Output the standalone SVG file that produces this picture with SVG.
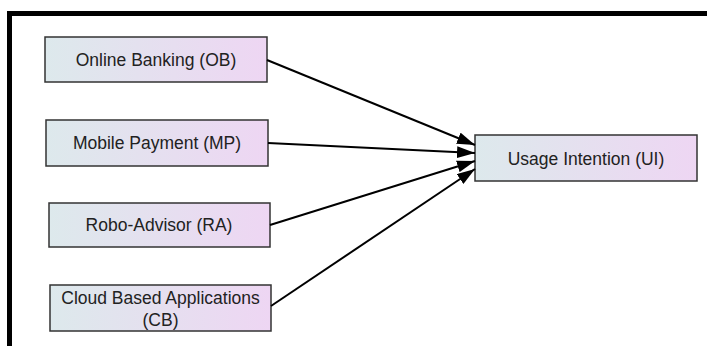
<svg xmlns="http://www.w3.org/2000/svg" width="707" height="346" viewBox="0 0 707 346">
<defs>
<linearGradient id="g" x1="0" y1="0" x2="1" y2="0">
<stop offset="0" stop-color="#dde9ec"/>
<stop offset="1" stop-color="#eed6f3"/>
</linearGradient>
<marker id="ah" markerWidth="18" markerHeight="12" refX="18" refY="6" orient="auto" markerUnits="userSpaceOnUse">
<path d="M0,0 L18,6 L0,12 Z" fill="#000"/>
</marker>
<style>
.box{fill:url(#g);stroke:#333;stroke-width:1.5}
.t{font-family:"Liberation Sans",Arial,sans-serif;font-size:17.5px;fill:#222;text-anchor:middle}
.e{stroke:#000;stroke-width:2;fill:none;marker-end:url(#ah)}
</style>
</defs>
<rect width="707" height="346" fill="#fff"/>
<path d="M9.5,346 V13.5 H707" fill="none" stroke="#000" stroke-width="5"/>
<g id="OB"><rect class="box" x="45" y="37" width="222" height="45"/><text class="t" x="156" y="66">Online Banking (OB)</text></g>
<g id="MP"><rect class="box" x="46" y="120" width="222" height="46"/><text class="t" x="157" y="149">Mobile Payment (MP)</text></g>
<g id="RA"><rect class="box" x="49" y="203" width="221" height="44"/><text class="t" x="159" y="231">Robo-Advisor (RA)</text></g>
<g id="CB"><rect class="box" x="50" y="285" width="221" height="46"/><text class="t" x="160.5" y="304">Cloud Based Applications</text><text class="t" x="160.5" y="326">(CB)</text></g>
<g id="UI"><rect class="box" x="475" y="135" width="222" height="46"/><text class="t" x="586" y="165">Usage Intention (UI)</text></g>
<g id="edges">
<line class="e" x1="267" y1="60" x2="475" y2="145"/>
<line class="e" x1="268" y1="143" x2="475" y2="153"/>
<line class="e" x1="270" y1="225" x2="475" y2="161"/>
<line class="e" x1="271" y1="306" x2="475" y2="169"/>
</g>
</svg>
